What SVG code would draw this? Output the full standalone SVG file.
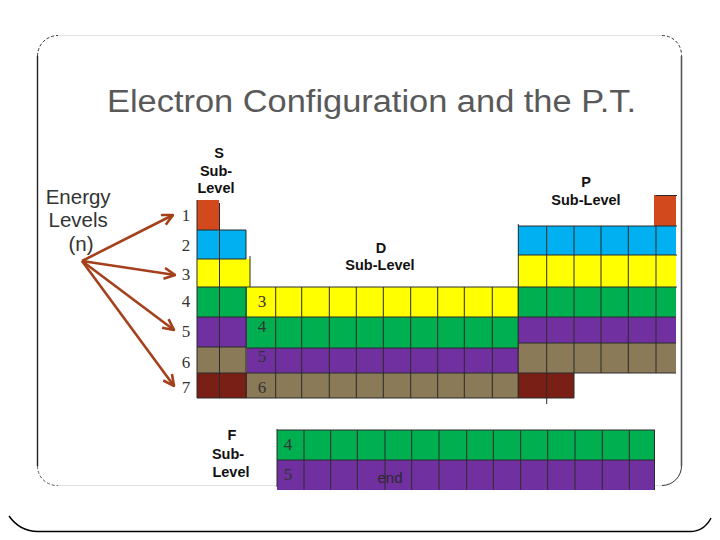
<svg xmlns="http://www.w3.org/2000/svg" width="720" height="540" viewBox="0 0 720 540">
<defs>
<style>
.red{fill:#d2491d}.blue{fill:#00b0f0}.yel{fill:#ffff00}.grn{fill:#00b050}.pur{fill:#7030a0}.tan{fill:#8b7a58}.drd{fill:#7a1f16}
.gl{stroke:#2a2a2a;stroke-width:1;fill:none}
.lab{font-family:"Liberation Sans",Arial,sans-serif;font-weight:bold;font-size:14.5px;fill:#111;text-anchor:middle}
.num{font-family:"Liberation Serif","Times New Roman",serif;font-size:17px;fill:#333;text-anchor:middle}
.arr{stroke:#a5401c;stroke-width:2.6;fill:none;marker-end:url(#ah)}
</style>
<marker id="ah" viewBox="0 0 12 12" refX="11" refY="6" markerWidth="13" markerHeight="13" markerUnits="userSpaceOnUse" orient="auto">
<path d="M1,1 L11,6 L1,11" stroke="#a5401c" stroke-width="2.4" fill="none" stroke-linejoin="miter"/>
</marker>
</defs>
<rect width="720" height="540" fill="#fff"/>

<g id="frame">
<path d="M58,35.5 H662" stroke="#e2e2e2" stroke-width="1.2" fill="none"/>
<path d="M58,485.5 H662" stroke="#e2e2e2" stroke-width="1.2" fill="none"/>
<path d="M37.5,56 V466" stroke="#222" stroke-width="1.4" fill="none"/>
<path d="M681.5,56 V466" stroke="#555" stroke-width="1.6" fill="none"/>
<path d="M37.5,56 A20.5,20.5 0 0 1 58,35.5" stroke="#333" stroke-width="1" stroke-dasharray="3,2" fill="none"/>
<path d="M662,35.5 A19.5,19.5 0 0 1 681.5,56" stroke="#333" stroke-width="1" stroke-dasharray="3,2" fill="none"/>
<path d="M37.5,466 A19.5,19.5 0 0 0 58,485.5" stroke="#555" stroke-width="1" stroke-dasharray="3,2" fill="none"/>
<path d="M662,485.5 A19.5,19.5 0 0 0 681.5,466" stroke="#333" stroke-width="1" fill="none"/>
<path d="M9,516 Q20,531.5 38,531.5 H690 Q704,531.5 711,518" stroke="#000" stroke-width="1.5" fill="none"/>
</g>

<g id="title">
<text x="107" y="112" font-family="'Liberation Sans',Arial,sans-serif" font-size="31" fill="#595959" textLength="529" lengthAdjust="spacingAndGlyphs">Electron Configuration and the P.T.</text>
</g>

<g id="energy-levels">
<text font-family="'Liberation Sans',Arial,sans-serif" font-size="20.5" fill="#333" text-anchor="middle">
<tspan x="81" y="204">Energy</tspan>
<tspan x="81" y="227">Levels</tspan>
<tspan x="81" y="251">(n)</tspan>
</text>
</g>

<g id="connectors">
<line class="arr" x1="82" y1="261" x2="173" y2="215"/>
<line class="arr" x1="82" y1="261" x2="175" y2="275"/>
<line class="arr" x1="82" y1="261" x2="174" y2="330"/>
<line class="arr" x1="82" y1="261" x2="174" y2="386"/>
</g>

<g id="row-numbers">
<text class="num" x="186" y="221">1</text>
<text class="num" x="186" y="251">2</text>
<text class="num" x="186" y="280">3</text>
<text class="num" x="186" y="307">4</text>
<text class="num" x="186" y="337">5</text>
<text class="num" x="186" y="368">6</text>
<text class="num" x="186" y="393">7</text>
</g>

<g id="s-block">
<rect class="red" x="197" y="200" width="22" height="30"/>
<rect class="blue" x="197" y="230" width="49" height="29"/>
<rect class="yel" x="197" y="259" width="53" height="28"/>
<rect class="grn" x="197" y="287" width="50" height="30"/>
<rect class="pur" x="197" y="317" width="50" height="30"/>
<rect class="tan" x="197" y="347" width="50" height="26"/>
<rect class="drd" x="197" y="373" width="50" height="25"/>
<path class="gl" d="M197,200 V398 M219.5,203 V398 M197,230 H246 V259 M197,259 H246 M250,256 V287 M197,287 H247 M197,317 H247 M197,347 H247 M197,373 H247 M197,398 H247 M246,287 V398"/>
<text class="lab"><tspan x="219" y="158">S</tspan><tspan x="216" y="176">Sub-</tspan><tspan x="216" y="193">Level</tspan></text>
</g>

<g id="d-block">
<rect class="yel" x="247" y="287" width="271" height="30"/>
<rect class="grn" x="247" y="317" width="271" height="31"/>
<rect class="pur" x="247" y="348" width="271" height="25"/>
<rect class="tan" x="247" y="373" width="271" height="25"/>
<path class="gl" d="M247,287 H518 M247,317 H518 M247,348 H518 M247,373 H518 M247,398 H518 M275.7,287 V398 M301.7,287 V398 M329.3,287 V398 M356.3,287 V398 M383.3,287 V398 M410.7,287 V398 M437.7,287 V398 M464.3,287 V398 M492.3,287 V398 M518.3,287 V398"/>
<text class="num" x="262" y="307">3</text>
<text class="num" x="262" y="332">4</text>
<text class="num" x="262" y="362">5</text>
<text class="num" x="262" y="393">6</text>
<text class="lab"><tspan x="381" y="253">D</tspan><tspan x="380" y="270">Sub-Level</tspan></text>
</g>

<g id="p-block">
<rect class="red" x="654" y="195" width="22" height="31"/>
<rect class="blue" x="518" y="226" width="158" height="29"/>
<rect class="yel" x="518" y="255" width="158" height="32"/>
<rect class="grn" x="518" y="287" width="158" height="30"/>
<rect class="pur" x="518" y="317" width="158" height="26"/>
<rect class="tan" x="518" y="343" width="158" height="30"/>
<rect class="drd" x="518" y="373" width="56" height="25"/>
<path class="gl" d="M656,195.5 H677 M518,226 H677 M518,255 H677 M518,287 H677 M518,317 H676 M518,343 H676 M518,373 H676 M518,398 H574 M518.3,224 V398 M546.7,226 V404 M574,226 V398 M601,226 V373 M628.3,226 V373 M656,226 V373"/>
<text class="lab"><tspan x="586" y="187">P</tspan><tspan x="586" y="205">Sub-Level</tspan></text>
</g>

<g id="f-block">
<rect class="grn" x="277" y="430" width="378" height="30"/>
<rect class="pur" x="277" y="460" width="378" height="30"/>
<path class="gl" d="M277,429 V487 M277,430 H655 M277,460 H655 M304,430 V490 M330.7,430 V490 M357.3,430 V490 M385,430 V490 M411.7,430 V490 M439,430 V490 M466.7,430 V490 M493.3,430 V490 M520.7,430 V490 M547.7,430 V490 M575,430 V490 M602.3,430 V490 M629.3,430 V490 M654.5,430 V490"/>
<text class="num" x="288" y="450">4</text>
<text class="num" x="288" y="480">5</text>
<text x="390" y="483" font-family="'Liberation Sans',Arial,sans-serif" font-size="15" fill="#2a2a2a" text-anchor="middle">end</text>
<text class="lab"><tspan x="232" y="440">F</tspan><tspan x="228" y="459">Sub-</tspan><tspan x="231" y="477">Level</tspan></text>
</g>
</svg>
